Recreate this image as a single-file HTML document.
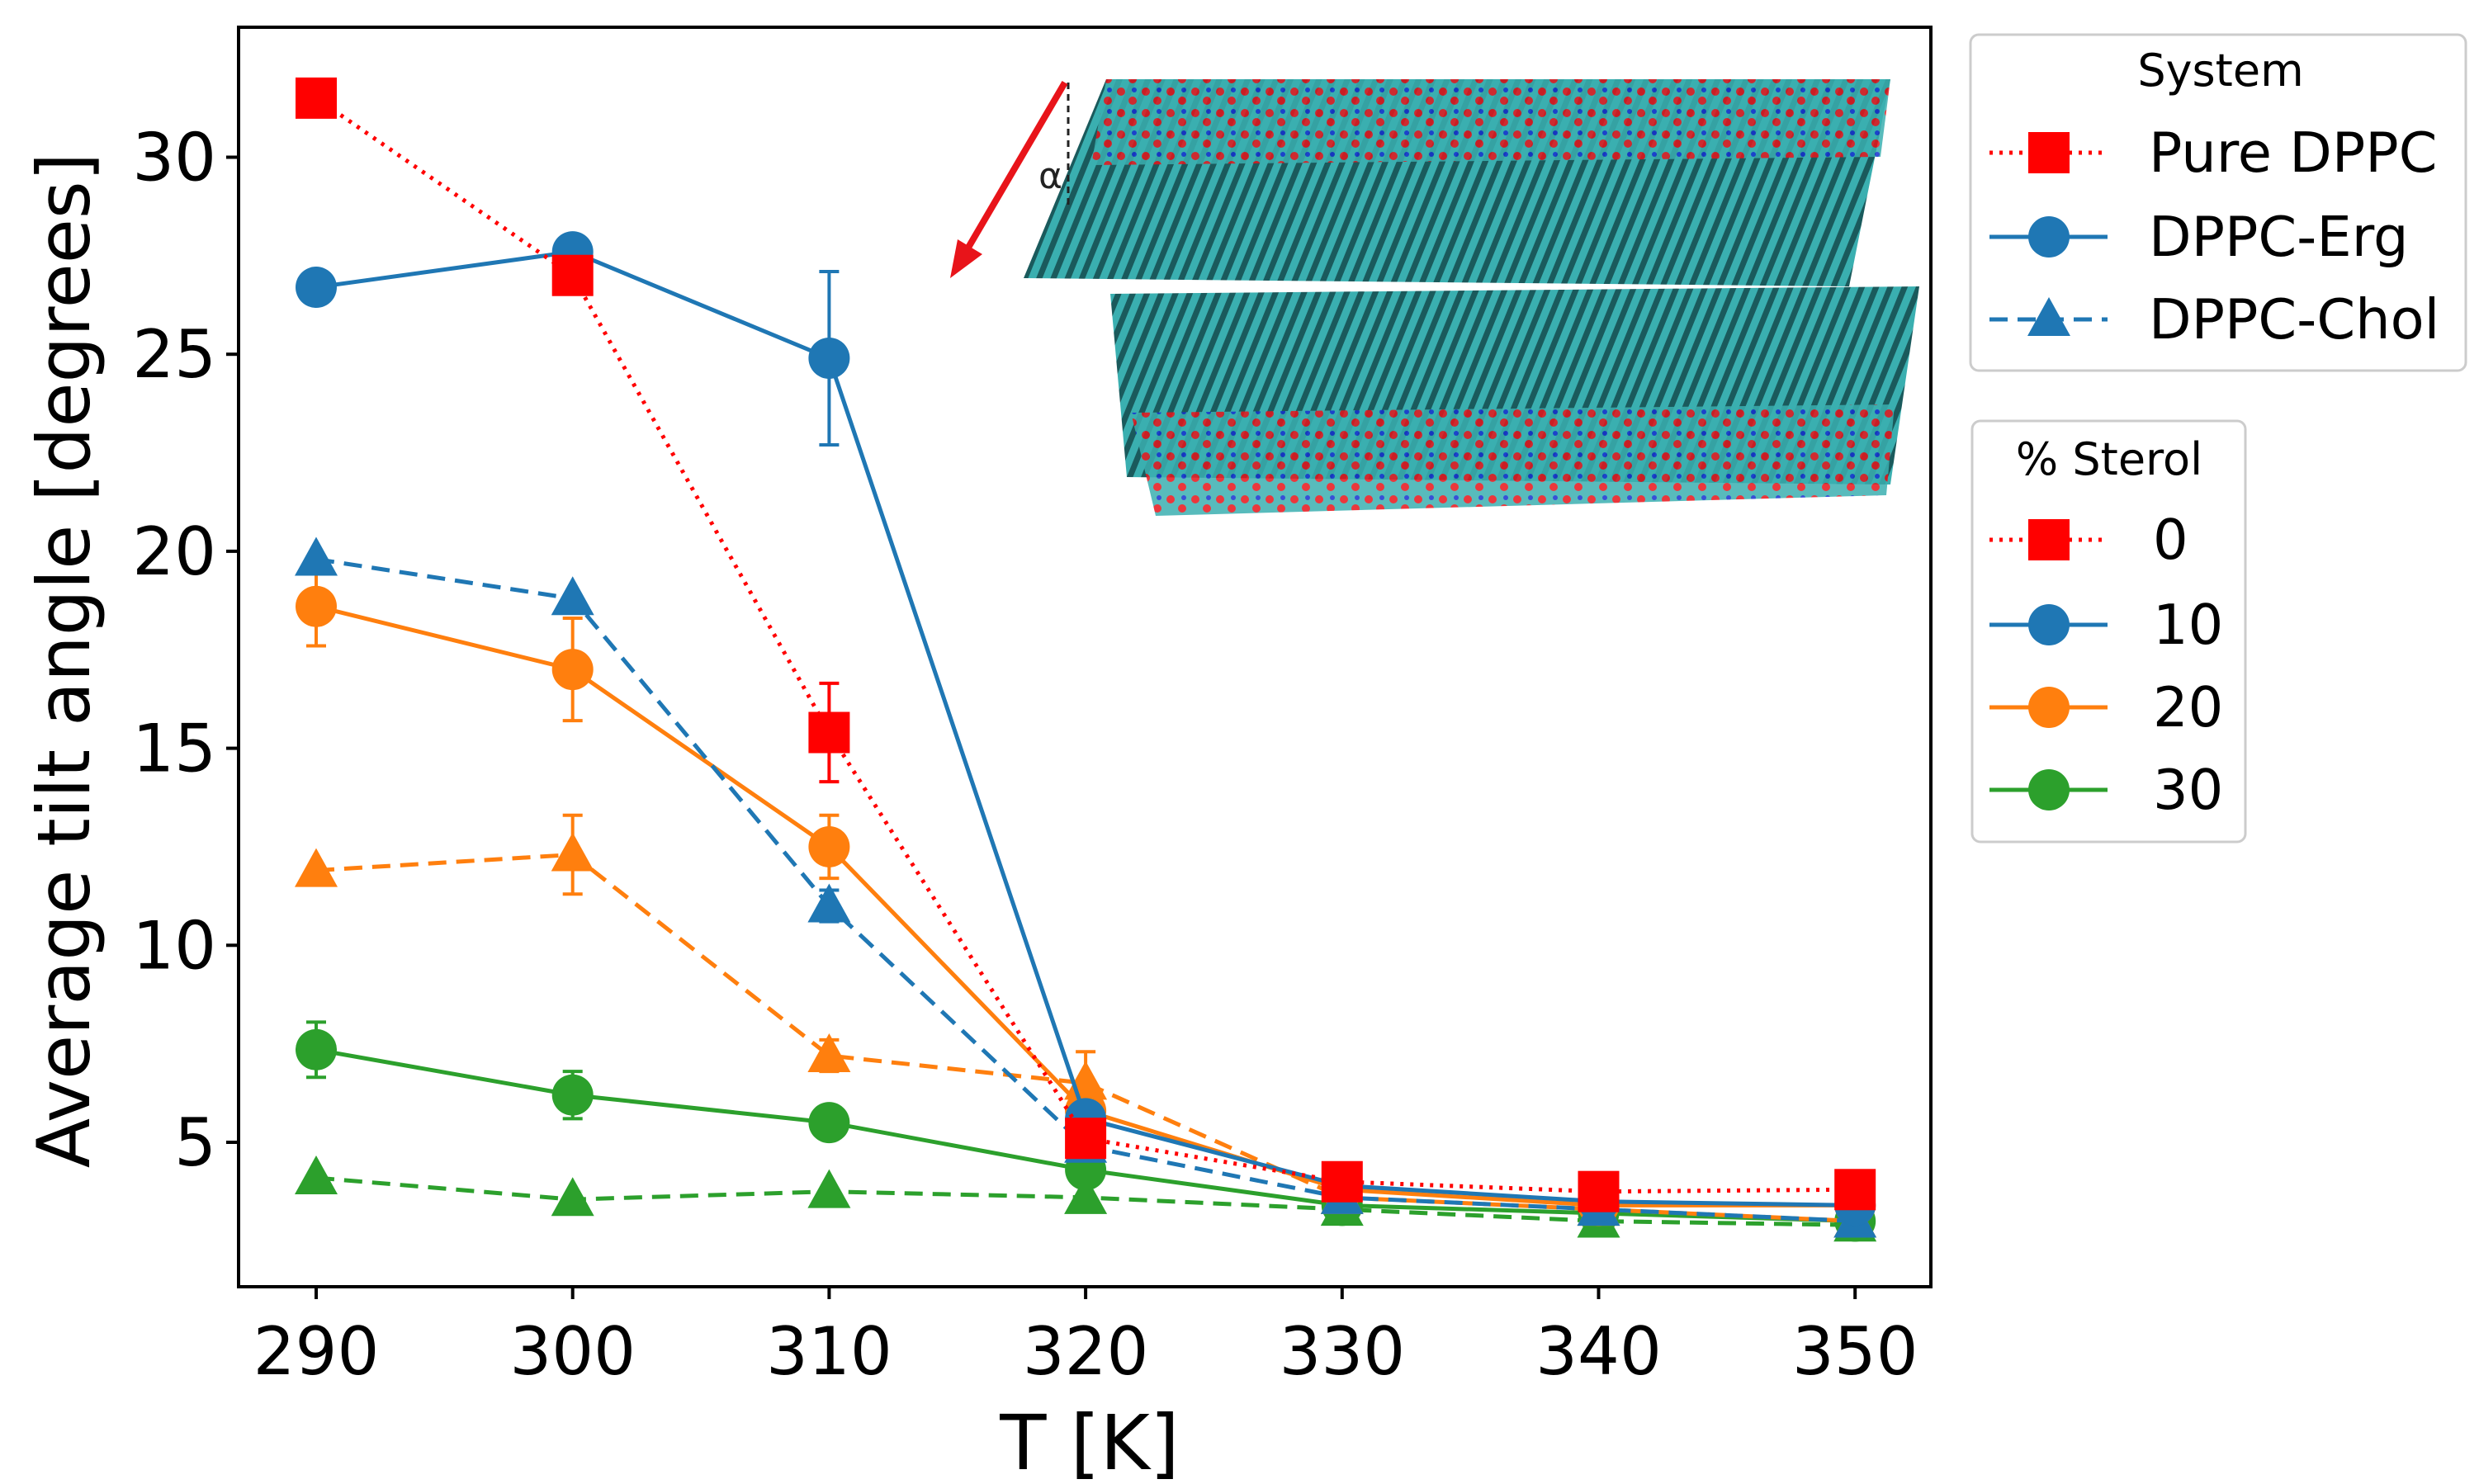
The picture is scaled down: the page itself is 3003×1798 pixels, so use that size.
<!DOCTYPE html>
<html><head><meta charset="utf-8"><style>
html,body{margin:0;padding:0;background:#fff}
svg{display:block}
text{font-family:"DejaVu Sans","Liberation Sans",sans-serif}
</style></head><body>
<svg id="chart" width="3003" height="1798" viewBox="0 0 3003 1798">
<defs>
<pattern id="chains" width="16" height="40" patternUnits="userSpaceOnUse" patternTransform="rotate(22)">
<rect width="16" height="40" fill="#1a5a5c"/>
<rect x="1" width="9" height="40" fill="#3aafb0"/>
</pattern>
<pattern id="heads" width="30" height="26" patternUnits="userSpaceOnUse">
<rect width="30" height="26" fill="#3aafb0"/>
<circle cx="8" cy="7" r="5" fill="#e8141a"/>
<circle cx="22" cy="18" r="5" fill="#e8141a"/>
<circle cx="24" cy="5" r="3" fill="#1530d0"/>
</pattern>
</defs>
<g id="inset">
<polygon points="1340,96 2290,96 2240,347 1240,337" fill="url(#chains)"/>
<polygon points="1345,356 2325,347 2290,587 1365,578" fill="url(#chains)"/>
<polygon points="1340,96 2290,96 2278,190 1322,200" fill="url(#heads)" opacity="0.85"/>
<polygon points="1370,500 2295,490 2285,600 1400,625" fill="url(#heads)" opacity="0.85"/>
<line x1="1294" y1="100" x2="1294" y2="250" stroke="#222" stroke-width="3" stroke-dasharray="8,6"/>
<line x1="1290" y1="100" x2="1170" y2="305" stroke="#e8141a" stroke-width="8"/>
<polygon points="1151,337 1160,290 1190,308" fill="#e8141a"/>
<text x="1258" y="228" font-size="44" fill="#222">α</text>
</g>
<g id="plot"></g>
<rect x="289" y="33" width="2050" height="1526" fill="none" stroke="#000" stroke-width="4"/>
<text x="1320" y="1780" font-size="92" text-anchor="middle">T [K]</text>
<text transform="translate(108,800) rotate(-90)" font-size="88" text-anchor="middle">Average tilt angle [degrees]</text>
<g>
<rect x="2387" y="42" width="600" height="407" rx="10" fill="#fff" stroke="#ccc" stroke-width="3"/>
<text x="2690" y="104" font-size="54" text-anchor="middle">System</text>
</g>
<g>
<rect x="2389" y="510" width="331" height="510" rx="10" fill="#fff" stroke="#ccc" stroke-width="3"/>
<text x="2555" y="575" font-size="54" text-anchor="middle">% Sterol</text>
</g>
<g id="legends"></g>
</svg>
<script>
const temps = [290,300,310,320,330,340,350];
const yTicks = [5,10,15,20,25,30];
const pureDPPC = [31.5,27.0,15.4,5.1,4.0,3.75,3.8];
const pureDPPCErr = [0,0,1.25,0,0,0,0];
const erg10 = [26.7,27.6,24.9,5.6,3.9,3.5,3.4];
const erg10Err = [0,0,2.2,0,0,0,0];
const chol10 = [19.8,18.8,11.0,4.9,3.6,3.3,3.0];
const chol10Err = [0,0,0.4,0,0,0,0];
const erg20 = [18.6,17.0,12.5,5.8,3.8,3.4,3.4];
const erg20Err = [1.0,1.3,0.8,0,0,0,0];
const chol20 = [11.9,12.3,7.2,6.5,3.6,3.3,3.0];
const chol20Err = [0,1.0,0.4,0.8,0,0,0];
const erg30 = [7.35,6.2,5.5,4.3,3.4,3.2,3.0];
const erg30Err = [0.7,0.6,0,0,0,0,0];
const chol30 = [4.1,3.55,3.75,3.6,3.3,3.0,2.9];
const chol30Err = [0,0,0,0,0,0,0];

const NS='http://www.w3.org/2000/svg';
const X = t => 383 + (t-290)*31.07;
const Y = v => 1384 - (v-5)*47.74;
const plot = document.getElementById('plot');
function mk(tag, attrs, parent){const e=document.createElementNS(NS,tag);for(const k in attrs)e.setAttribute(k,attrs[k]);(parent||plot).appendChild(e);return e;}

temps.forEach(t=>{
  const l=mk('line',{x1:X(t),x2:X(t),y1:1559,y2:1574,stroke:'#000','stroke-width':4});
  
  
  const tx=mk('text',{x:X(t),y:1665,'font-size':80,'text-anchor':'middle'});
  tx.textContent=t;
  
  
});
yTicks.forEach(v=>{
  const l=mk('line',{x1:274,x2:289,y1:Y(v),y2:Y(v),stroke:'#000','stroke-width':4});
  
  
  const tx=mk('text',{x:262,y:Y(v)+28,'font-size':80,'text-anchor':'end'});
  tx.textContent=v;
  
  
});

function marker(shape,cx,cy,color,parent){
  let e;
  if(shape==='s') e=mk('rect',{x:cx-25,y:cy-25,width:50,height:50,fill:color},parent);
  else if(shape==='o') e=mk('circle',{cx:cx,cy:cy,r:25,fill:color},parent);
  else e=mk('polygon',{points:`${cx},${cy-27} ${cx+26},${cy+20} ${cx-26},${cy+20}`,fill:color},parent);
  return e;
}
const dashMap={dot:'4,8',solid:'',dash:'22,12'};
const series=[
 {name:'dppc-chol-30',v:chol30,e:chol30Err,c:'#2ca02c',s:'t',d:'dash'},
 {name:'dppc-erg-30',v:erg30,e:erg30Err,c:'#2ca02c',s:'o',d:'solid'},
 {name:'dppc-chol-20',v:chol20,e:chol20Err,c:'#ff7f0e',s:'t',d:'dash'},
 {name:'dppc-erg-20',v:erg20,e:erg20Err,c:'#ff7f0e',s:'o',d:'solid'},
 {name:'dppc-chol-10',v:chol10,e:chol10Err,c:'#1f77b4',s:'t',d:'dash'},
 {name:'dppc-erg-10',v:erg10,e:erg10Err,c:'#1f77b4',s:'o',d:'solid'},
 {name:'pure-dppc',v:pureDPPC,e:pureDPPCErr,c:'#ff0000',s:'s',d:'dot'}
];
series.forEach(sr=>{
  const g=mk('g',{});
  
  
  const pl=mk('polyline',{points:temps.map((t,i)=>X(t)+','+Y(sr.v[i])).join(' '),fill:'none',stroke:sr.c,'stroke-width':5,'stroke-dasharray':dashMap[sr.d]},g);
  
  
  temps.forEach((t,i)=>{
    if(sr.e[i]>0){
      const x=X(t),y1=Y(sr.v[i]+sr.e[i]),y2=Y(sr.v[i]-sr.e[i]);
      const eb=mk('path',{d:`M${x},${y1}V${y2}M${x-12},${y1}H${x+12}M${x-12},${y2}H${x+12}`,stroke:sr.c,'stroke-width':4,fill:'none'},g);
      
      
    }
    const m=marker(sr.s,X(t),Y(sr.v[i]),sr.c,g);
    
    
  });
});

const lg=document.getElementById('legends');
const legSys=[['Pure DPPC','#ff0000','s','dot',185],['DPPC-Erg','#1f77b4','o','solid',287],['DPPC-Chol','#1f77b4','t','dash',387]];
const legSt=[['0','#ff0000','s','dot',654],['10','#1f77b4','o','solid',757],['20','#ff7f0e','o','solid',857],['30','#2ca02c','o','solid',957]];
legSys.concat(legSt).forEach((it,k)=>{
  const g=mk('g',{},lg);
  
  
  const x0=2410,y=it[4];
  mk('line',{x1:x0,x2:x0+143,y1:y,y2:y,stroke:it[1],'stroke-width':5,'stroke-dasharray':dashMap[it[3]]},g);
  marker(it[2],x0+72,y,it[1],g);
  const tx=mk('text',{x:k<3?2603:2608,y:y+23,'font-size':67},g);
  tx.textContent=it[0];
});
</script>
</body></html>
